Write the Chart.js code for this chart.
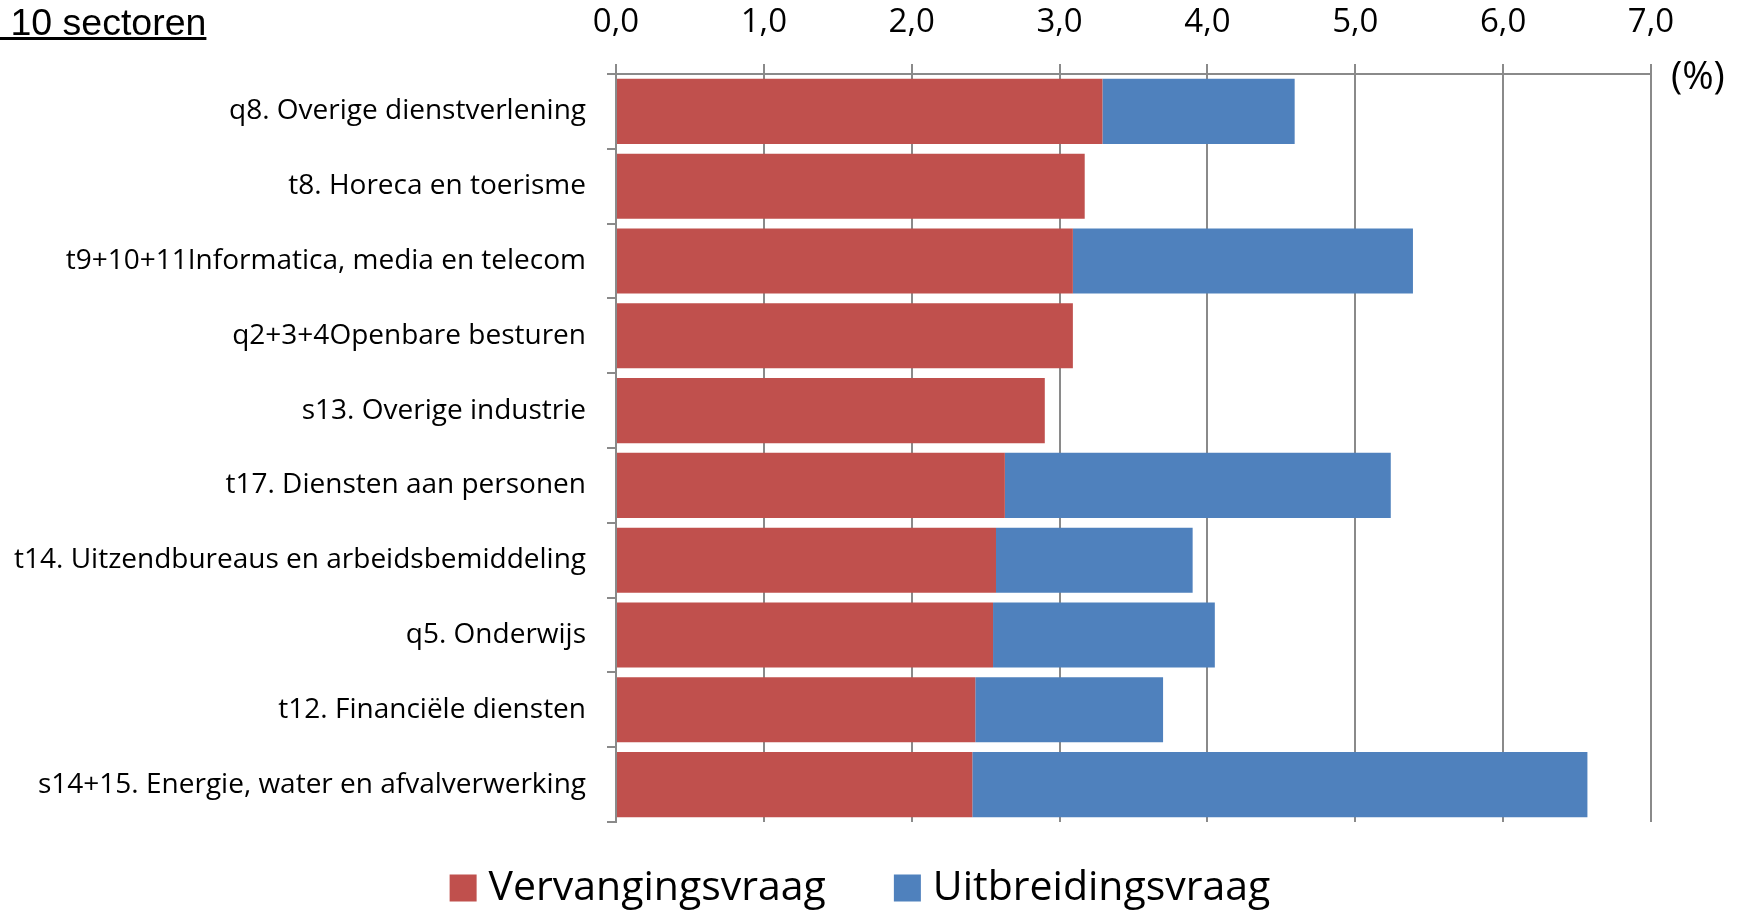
<!DOCTYPE html>
<html>
<head>
<meta charset="utf-8">
<script src="https://cdn.jsdelivr.net/npm/chart.js@4/dist/chart.umd.min.js"></script>
<style>
  html, body { margin: 0; padding: 0; background: #fff; }
  #wrap { position: relative; width: 1740px; height: 911px; }
  #title {
    position: absolute; left: 0; top: 1px;
    font-family: "Liberation Sans", Arial, sans-serif; font-size: 37.5px;
    color: #000; text-decoration: underline; white-space: pre;
  }
</style>
</head>
<body>
<div id="wrap">
  <canvas id="chart" width="1740" height="911"></canvas>
  <div id="title"> 10 sectoren</div>
</div>
<script>
const categories = [
  'q8. Overige dienstverlening',
  't8. Horeca en toerisme',
  't9+10+11Informatica, media en telecom',
  'q2+3+4Openbare besturen',
  's13. Overige industrie',
  't17. Diensten aan personen',
  't14. Uitzendbureaus en arbeidsbemiddeling',
  'q5. Onderwijs',
  't12. Financiële diensten',
  's14+15. Energie, water en afvalverwerking'
];
const vervangingsvraag = [3.29, 3.17, 3.09, 3.09, 2.90, 2.63, 2.57, 2.55, 2.43, 2.41];
const uitbreidingsvraag = [1.30, 0, 2.30, 0, 0, 2.61, 1.33, 1.50, 1.27, 4.16];
const xTicks = [0, 1, 2, 3, 4, 5, 6, 7];

const gridColor = '#8a8a8a';
const labelFont = '"Open Sans", "Noto Sans", sans-serif';

// "(%)" next to the top axis
const unitLabel = {
  id: 'unitLabel',
  afterDraw(chart) {
    const ctx = chart.ctx;
    const x = chart.scales.x;
    ctx.save();
    ctx.font = '38px ' + labelFont;
    ctx.fillStyle = '#000';
    ctx.textAlign = 'left';
    ctx.textBaseline = 'middle';
    ctx.fillText('(%)', x.right + 20, x.bottom + 4);
    ctx.restore();
  }
};

// legend under the chart, spaced like the original
const bottomLegend = {
  id: 'bottomLegend',
  afterDraw(chart) {
    const ctx = chart.ctx;
    const box = 27, gap = 12, itemGap = 68, y = 888;
    ctx.save();
    ctx.font = '41px ' + labelFont;
    const items = chart.data.datasets.map(ds => ({
      text: ds.label, color: ds.backgroundColor, w: ctx.measureText(ds.label).width
    }));
    const total = items.reduce((s, it) => s + box + gap + it.w, 0) + itemGap * (items.length - 1);
    let x = 860 - total / 2;
    ctx.textBaseline = 'middle';
    ctx.textAlign = 'left';
    items.forEach(it => {
      ctx.fillStyle = it.color;
      ctx.fillRect(x, y - box / 2, box, box);
      ctx.fillStyle = '#000';
      ctx.fillText(it.text, x + box + gap, y);
      x += box + gap + it.w + itemGap;
    });
    ctx.restore();
  }
};

new Chart(document.getElementById('chart'), {
  type: 'bar',
  data: {
    labels: categories,
    datasets: [
      {
        label: 'Vervangingsvraag',
        data: vervangingsvraag,
        backgroundColor: '#C0504D',
        borderWidth: 0,
        categoryPercentage: 1,
        barPercentage: 0.87,
      },
      {
        label: 'Uitbreidingsvraag',
        data: uitbreidingsvraag,
        backgroundColor: '#4F81BD',
        borderWidth: 0,
        categoryPercentage: 1,
        barPercentage: 0.87,
      },
    ],
  },
  options: {
    indexAxis: 'y',
    responsive: false,
    animation: false,
    layout: { padding: { left: 0, right: 89, top: 0, bottom: 89 } },
    scales: {
      x: {
        position: 'top',
        stacked: true,
        min: 0,
        max: 7,
        afterFit(scale) { scale.height = 74; },
        afterBuildTicks(scale) { scale.ticks = xTicks.map(v => ({ value: v })); },
        grid: { color: gridColor, lineWidth: 2, tickLength: 10 },
        border: { color: gridColor, width: 2 },
        ticks: {
          color: '#000',
          padding: 22,
          font: { family: labelFont, size: 33 },
          callback: v => v.toFixed(1).replace('.', ','),
        },
      },
      y: {
        stacked: true,
        afterFit(scale) { scale.width = 616; },
        grid: { drawOnChartArea: false, color: gridColor, lineWidth: 2, tickLength: 9 },
        border: { color: gridColor, width: 2 },
        ticks: {
          color: '#000',
          padding: 21,
          font: { family: labelFont, size: 28 },
        },
      },
    },
    plugins: {
      legend: { display: false },
      tooltip: { enabled: false },
    },
  },
  plugins: [unitLabel, bottomLegend],
});
</script>
</body>
</html>
